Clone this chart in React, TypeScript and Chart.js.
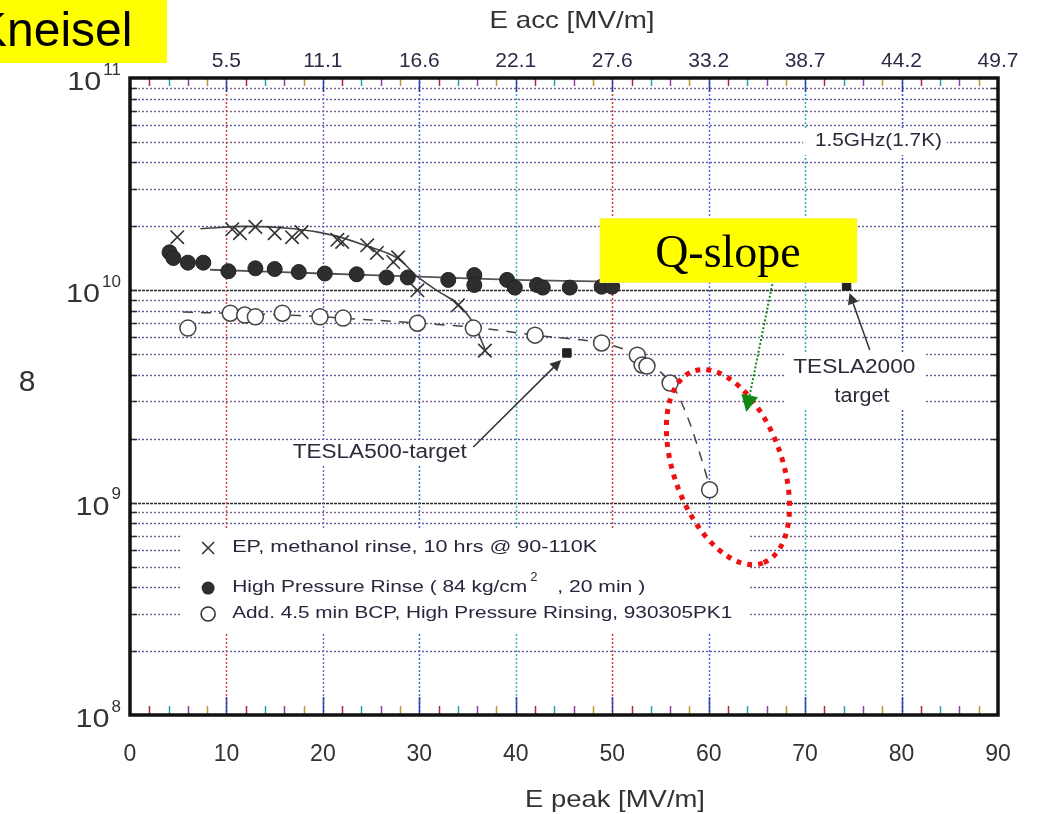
import React, { useEffect, useRef } from "react";
import { Chart, registerables } from "chart.js";

Chart.register(...registerables);

const FONT = "'Liberation Sans', Arial, Helvetica, sans-serif";
const SERIF = "'Liberation Serif', 'Times New Roman', serif";

// ---- axes ----
const EPEAK_MIN = 0;
const EPEAK_MAX = 90;
const EACC_POS = [10, 20, 30, 40, 50, 60, 70, 80, 90];
const EACC_LABELS = ["5.5", "11.1", "16.6", "22.1", "27.6", "33.2", "38.7", "44.2", "49.7"];
const Y_DECADES = [1e8, 1e9, 1e10, 1e11];
const Y_EXPONENTS = ["8", "9", "10", "11"];
const Y_FACTORS = [1, 2, 3, 4, 5, 6, 7, 8, 9];
const V_GRID = [10, 20, 30, 40, 50, 60, 70, 80];

// ---- series: EP, methanol rinse (crosses) ----
const EP_X = [4.9, 10.6, 11.4, 13.0, 15.0, 16.8, 17.8, 21.5, 22.0, 24.6, 25.6, 27.3, 27.8, 29.8, 34.0, 36.8];
const EP_Q = [1.78e10, 1.94e10, 1.86e10, 1.99e10, 1.86e10, 1.78e10, 1.88e10, 1.73e10, 1.69e10, 1.63e10, 1.5e10, 1.36e10, 1.43e10, 1.0e10, 8.5e9, 5.2e9];
const EP_FIT_X = [7.3, 12, 17, 21, 24.5, 27.7, 29.8, 32.1, 33.9, 35.6, 36.8];
const EP_FIT_Q = [1.95e10, 2.0e10, 1.95e10, 1.82e10, 1.62e10, 1.42e10, 1.16e10, 9.8e9, 8.7e9, 7.0e9, 5.3e9];

// ---- series: High Pressure Rinse (filled circles) ----
const HPR_X = [4.1, 4.5, 6.0, 7.6, 10.2, 13.0, 15.0, 17.5, 20.2, 23.5, 26.6, 28.8, 33.0, 35.7, 35.7, 39.1, 39.9, 42.2, 42.8, 45.6, 48.9, 50.0];
const HPR_Q = [1.51e10, 1.42e10, 1.35e10, 1.35e10, 1.23e10, 1.27e10, 1.26e10, 1.22e10, 1.2e10, 1.19e10, 1.15e10, 1.15e10, 1.12e10, 1.18e10, 1.06e10, 1.12e10, 1.03e10, 1.06e10, 1.03e10, 1.03e10, 1.04e10, 1.04e10];
const HPR_FIT_X = [8.3, 20, 30, 40, 50];
const HPR_FIT_Q = [1.25e10, 1.2e10, 1.16e10, 1.12e10, 1.1e10];

// ---- series: Add. 4.5 min BCP (open circles) ----
const BCP_X = [6.0, 10.4, 11.9, 13.0, 15.8, 19.7, 22.1, 29.8, 35.6, 42.0, 48.9, 52.6, 53.1, 53.6, 56.0, 60.1];
const BCP_Q = [6.64e9, 7.8e9, 7.65e9, 7.5e9, 7.8e9, 7.5e9, 7.4e9, 7.0e9, 6.64e9, 6.15e9, 5.65e9, 4.95e9, 4.45e9, 4.4e9, 3.66e9, 1.15e9];
const BCP_FIT_X = [5.5, 10, 15, 20, 25, 30, 35.6, 42, 48.9, 52.6, 56, 58, 60.1];
const BCP_FIT_Q = [7.9e9, 7.8e9, 7.7e9, 7.5e9, 7.25e9, 7.0e9, 6.7e9, 6.15e9, 5.65e9, 4.95e9, 3.7e9, 2.4e9, 1.2e9];

// ---- TESLA targets (filled squares) ----
const TARGET_X = [45.3, 74.3];
const TARGET_Q = [5.07e9, 1.05e10];

// ---- legend texts ----
const LEGEND_1 = "EP, methanol rinse, 10 hrs @ 90-110K";
const LEGEND_2A = "High Pressure Rinse ( 84 kg/cm";
const LEGEND_2SUP = "2";
const LEGEND_2B = ", 20 min )";
const LEGEND_3 = "Add. 4.5 min BCP, High Pressure Rinsing, 930305PK1";

const pts = (xs: number[], ys: number[]) => xs.map((x, i) => ({ x, y: ys[i] }));

const V_COLORS = ["#d04848", "#8a5cc8", "#4466d8", "#3fb3c4", "#d83434", "#4a70e0", "#3aa8c4", "#3452c4"];
const TICK_COLORS = ["#2840b0", "#b02838", "#28a0b8", "#9838b0", "#b89828"];

function stretchText(ctx: CanvasRenderingContext2D, text: string, x: number, y: number, width: number, align: "left" | "center" | "right" = "left") {
  const w = ctx.measureText(text).width || 1;
  const sx = width / w;
  const x0 = align === "center" ? x - width / 2 : align === "right" ? x - width : x;
  ctx.save();
  ctx.textAlign = "left";
  ctx.translate(x0, y);
  ctx.scale(sx, 1);
  ctx.fillText(text, 0, 0);
  ctx.restore();
}

function arrow(ctx: CanvasRenderingContext2D, x1: number, y1: number, x2: number, y2: number, color: string, width: number, head: number, dash?: number[]) {
  const ang = Math.atan2(y2 - y1, x2 - x1);
  const c = Math.cos(ang), s = Math.sin(ang);
  ctx.save();
  ctx.strokeStyle = color;
  ctx.lineWidth = width;
  if (dash) ctx.setLineDash(dash);
  ctx.beginPath();
  ctx.moveTo(x1, y1);
  ctx.lineTo(x2 - head * 0.8 * c, y2 - head * 0.8 * s);
  ctx.stroke();
  ctx.setLineDash([]);
  ctx.fillStyle = color;
  ctx.beginPath();
  ctx.moveTo(x2, y2);
  ctx.lineTo(x2 - head * c + head * 0.5 * s, y2 - head * s - head * 0.5 * c);
  ctx.lineTo(x2 - head * c - head * 0.5 * s, y2 - head * s + head * 0.5 * c);
  ctx.closePath();
  ctx.fill();
  ctx.restore();
}

const scanPlugin = {
  id: "scanPlugin",
  beforeDatasetsDraw(chart: any) {
    const { ctx, chartArea: a, scales } = chart;
    const xs = scales.x, ys = scales.y;
    const P = (x: number, y: number) => [xs.getPixelForValue(x), ys.getPixelForValue(y)];
    ctx.save();
    // horizontal grid
    Y_DECADES.slice(0, 3).forEach((d) => {
      Y_FACTORS.forEach((f, k) => {
        const v = d * f;
        if (v <= 1e8 || v >= 1e11) return;
        const y = Math.round(ys.getPixelForValue(v)) + 0.5;
        ctx.beginPath();
        if (f === 1) {
          ctx.strokeStyle = "#2a2a2a";
          ctx.lineWidth = 1.6;
          ctx.setLineDash([3, 1]);
        } else {
          ctx.strokeStyle = k % 2 ? "#5a5aa0" : "#7a5f8a";
          ctx.lineWidth = 1.4;
          ctx.setLineDash([2, 2]);
        }
        ctx.moveTo(a.left, y);
        ctx.lineTo(a.right, y);
        ctx.stroke();
      });
    });
    // vertical grid
    V_GRID.forEach((v, i) => {
      const x = Math.round(xs.getPixelForValue(v)) + 0.5;
      ctx.beginPath();
      ctx.strokeStyle = V_COLORS[i % V_COLORS.length];
      ctx.lineWidth = 1.5;
      ctx.setLineDash([2, 2]);
      ctx.moveTo(x, a.top);
      ctx.lineTo(x, a.bottom);
      ctx.stroke();
    });
    ctx.setLineDash([]);
    // inward ticks bottom & top
    for (let v = 2; v < EPEAK_MAX; v += 2) {
      const x = Math.round(xs.getPixelForValue(v)) + 0.5;
      const major = v % 10 === 0;
      ctx.strokeStyle = TICK_COLORS[(v / 2) % TICK_COLORS.length];
      ctx.lineWidth = 1.5;
      ctx.beginPath();
      ctx.moveTo(x, a.bottom);
      ctx.lineTo(x, a.bottom - (major ? 18 : 9));
      ctx.moveTo(x, a.top);
      ctx.lineTo(x, a.top + (major ? 14 : 8));
      ctx.stroke();
    }
    // left/right minor ticks
    Y_DECADES.slice(0, 3).forEach((d) => {
      Y_FACTORS.forEach((f) => {
        const v = d * f;
        if (v <= 1e8 || v >= 1e11) return;
        const y = Math.round(ys.getPixelForValue(v)) + 0.5;
        ctx.strokeStyle = "#333";
        ctx.lineWidth = 1.5;
        ctx.beginPath();
        ctx.moveTo(a.left, y);
        ctx.lineTo(a.left + 7, y);
        ctx.moveTo(a.right, y);
        ctx.lineTo(a.right - 7, y);
        ctx.stroke();
      });
    });
    // white backgrounds behind labels
    ctx.fillStyle = "#ffffff";
    const rect = (x0: number, y0: number, x1: number, y1: number) => {
      const [px0, py0] = P(x0, y0);
      const [px1, py1] = P(x1, y1);
      ctx.fillRect(px0, py0, px1 - px0, py1 - py0);
    };
    rect(5.2, 7.43e8, 64.3, 2.46e8); // legend
    rect(69.8, 5.81e10, 84.7, 4.34e10); // 1.5GHz
    rect(67.9, 5.12e9, 82.4, 2.73e9); // TESLA2000
    rect(16.4, 1.97e9, 35.5, 1.5e9); // TESLA500
    ctx.restore();
  },
  afterDatasetsDraw(chart: any) {
    const { ctx, chartArea: a, scales } = chart;
    const xs = scales.x, ys = scales.y;
    const P = (x: number, y: number) => [xs.getPixelForValue(x), ys.getPixelForValue(y)];
    ctx.save();
    ctx.textBaseline = "middle";

    // legend
    const markX = xs.getPixelForValue(8.1);
    const textX = xs.getPixelForValue(10.6);
    const r1 = ys.getPixelForValue(6.12e8);
    const r2 = ys.getPixelForValue(3.96e8);
    const r3 = ys.getPixelForValue(2.99e8);
    ctx.strokeStyle = "#333";
    ctx.lineWidth = 1.6;
    ctx.beginPath();
    ctx.moveTo(markX - 6, r1 - 6); ctx.lineTo(markX + 6, r1 + 6);
    ctx.moveTo(markX + 6, r1 - 6); ctx.lineTo(markX - 6, r1 + 6);
    ctx.stroke();
    ctx.fillStyle = "#2e2e2e";
    ctx.beginPath(); ctx.arc(markX, r2, 6.5, 0, Math.PI * 2); ctx.fill();
    ctx.fillStyle = "#fff";
    ctx.beginPath(); ctx.arc(markX, r3, 7, 0, Math.PI * 2); ctx.fill(); ctx.stroke();
    ctx.fillStyle = "#26263c";
    ctx.font = `16px ${FONT}`;
    stretchText(ctx, LEGEND_1, textX, r1, 365);
    stretchText(ctx, LEGEND_2A, textX, r2, 295);
    stretchText(ctx, LEGEND_2B, textX + 325, r2, 88);
    ctx.font = `13px ${FONT}`;
    ctx.fillText(LEGEND_2SUP, textX + 298, r2 - 11);
    ctx.font = `16px ${FONT}`;
    stretchText(ctx, LEGEND_3, textX, r3, 500);

    // labels
    ctx.fillStyle = "#2a2a3a";
    ctx.font = `19px ${FONT}`;
    let [lx, ly] = P(77.6, 5.05e10);
    stretchText(ctx, "1.5GHz(1.7K)", lx, ly, 127, "center");
    ctx.font = `20px ${FONT}`;
    [lx, ly] = P(75.1, 4.31e9);
    stretchText(ctx, "TESLA2000", lx, ly, 122, "center");
    [lx, ly] = P(75.9, 3.15e9);
    stretchText(ctx, "target", lx, ly, 55, "center");
    [lx, ly] = P(25.9, 1.73e9);
    stretchText(ctx, "TESLA500-target", lx, ly, 174, "center");

    // black arrows to targets
    let [ax1, ay1] = P(35.6, 1.83e9);
    let [ax2, ay2] = P(44.7, 4.7e9);
    arrow(ctx, ax1, ay1, ax2, ay2, "#333", 1.5, 11);
    [ax1, ay1] = P(76.7, 5.24e9);
    [ax2, ay2] = P(74.6, 9.71e9);
    arrow(ctx, ax1, ay1, ax2, ay2, "#333", 1.5, 11);

    // red dotted ellipse
    const [ex, ey] = P(62.0, 1.47e9);
    ctx.save();
    ctx.strokeStyle = "#ee1111";
    ctx.lineWidth = 5;
    ctx.setLineDash([5, 6]);
    ctx.beginPath();
    ctx.ellipse(ex, ey, 102, 54, (70 * Math.PI) / 180, 0, Math.PI * 2);
    ctx.stroke();
    ctx.restore();

    // Q-slope box
    const [bx0, by0] = P(48.7, 2.19e10);
    const [bx1, by1] = P(75.4, 1.083e10);
    ctx.fillStyle = "#ffff00";
    ctx.fillRect(bx0, by0, bx1 - bx0, by1 - by0);
    ctx.save();
    ctx.strokeStyle = "#e8e8b0";
    ctx.setLineDash([2, 2]);
    ctx.lineWidth = 1;
    ctx.strokeRect(bx0 + 0.5, by0 + 0.5, bx1 - bx0 - 1, by1 - by0 - 1);
    ctx.restore();
    ctx.fillStyle = "#000";
    ctx.font = `46px ${SERIF}`;
    ctx.textAlign = "center";
    const [qx, qy] = P(62.0, 1.467e10);
    ctx.fillText("Q-slope", qx, qy);
    ctx.textAlign = "left";

    // green dotted arrow
    [ax1, ay1] = P(66.6, 1.07e10);
    [ax2, ay2] = P(63.9, 2.67e9);
    arrow(ctx, ax1, ay1, ax2, ay2, "#118811", 2, 17, [2, 2]);

    // frame
    ctx.strokeStyle = "#111";
    ctx.lineWidth = 3.5;
    ctx.setLineDash([]);
    ctx.strokeRect(a.left, a.top, a.right - a.left, a.bottom - a.top);
    ctx.restore();
  },
  afterDraw(chart: any) {
    const { ctx, scales, chartArea: a } = chart;
    const ys = scales.y;
    ctx.save();
    // y tick labels with superscripts
    ctx.fillStyle = "#333";
    ctx.textBaseline = "middle";
    Y_DECADES.forEach((d, i) => {
      const y = ys.getPixelForValue(d);
      ctx.font = `17px ${FONT}`;
      const ew = ctx.measureText(Y_EXPONENTS[i]).width;
      const right = a.left - 9;
      ctx.fillText(Y_EXPONENTS[i], right - ew, y - 8);
      ctx.font = `25px ${FONT}`;
      stretchText(ctx, "10", right - ew - 36, y + 5, 34);
    });
    // y title
    ctx.font = `30px ${FONT}`;
    ctx.textAlign = "center";
    ctx.fillText("8", 27, 383);
    // axis titles
    ctx.font = `24px ${FONT}`;
    stretchText(ctx, "E acc [MV/m]", (a.left + a.right) / 2 + 8, 21, 165, "center");
    stretchText(ctx, "E peak [MV/m]", (a.left + a.right) / 2 + 51, 800, 180, "center");
    // Kneisel box
    ctx.fillStyle = "#ffff00";
    ctx.fillRect(0, 0, 167, 63);
    ctx.fillStyle = "#000";
    ctx.font = `48px ${FONT}`;
    ctx.textAlign = "left";
    ctx.textBaseline = "alphabetic";
    ctx.fillText("Kneisel", -25, 46);
    ctx.restore();
  },
};

export default function App() {
  const ref = useRef<HTMLCanvasElement>(null);
  useEffect(() => {
    document.body.style.margin = "0";
    const canvas = ref.current!;
    const chart = new Chart(canvas, {
      type: "scatter",
      data: {
        datasets: [
          {
            label: "EP, methanol rinse",
            data: pts(EP_X, EP_Q),
            pointStyle: "crossRot",
            pointRadius: 9.5,
            pointBorderColor: "#333",
            pointBorderWidth: 1.6,
            showLine: false,
            order: 1,
          },
          {
            label: "High Pressure Rinse",
            data: pts(HPR_X, HPR_Q),
            pointStyle: "circle",
            pointRadius: 7.5,
            pointBackgroundColor: "#2e2e2e",
            pointBorderColor: "#222",
            pointBorderWidth: 1,
            showLine: false,
            order: 1,
          },
          {
            label: "Add. 4.5 min BCP",
            data: pts(BCP_X, BCP_Q),
            pointStyle: "circle",
            pointRadius: 8,
            pointBackgroundColor: "#ffffff",
            pointBorderColor: "#444",
            pointBorderWidth: 1.5,
            showLine: false,
            order: 1,
          },
          {
            label: "TESLA targets",
            data: pts(TARGET_X, TARGET_Q),
            pointStyle: "rect",
            pointRadius: 6,
            pointBackgroundColor: "#222",
            pointBorderColor: "#222",
            showLine: false,
            order: 1,
          },
          {
            label: "EP fit",
            data: pts(EP_FIT_X, EP_FIT_Q),
            showLine: true,
            pointRadius: 0,
            borderColor: "#444",
            borderWidth: 1.6,
            tension: 0.35,
            order: 5,
          },
          {
            label: "HPR fit",
            data: pts(HPR_FIT_X, HPR_FIT_Q),
            showLine: true,
            pointRadius: 0,
            borderColor: "#555",
            borderWidth: 1.8,
            tension: 0.3,
            order: 5,
          },
          {
            label: "BCP fit",
            data: pts(BCP_FIT_X, BCP_FIT_Q),
            showLine: true,
            pointRadius: 0,
            borderColor: "#444",
            borderWidth: 1.5,
            borderDash: [10, 8],
            tension: 0.3,
            order: 5,
          },
        ],
      },
      options: {
        responsive: false,
        animation: false,
        layout: { padding: { right: 39 } },
        plugins: { legend: { display: false }, tooltip: { enabled: false } },
        scales: {
          x: {
            type: "linear",
            position: "bottom",
            min: EPEAK_MIN,
            max: EPEAK_MAX,
            ticks: { stepSize: 10, font: { size: 23, family: FONT }, color: "#333", padding: 26, maxRotation: 0, autoSkip: false },
            grid: { display: false, drawTicks: false },
            border: { display: false },
            afterFit: (s: any) => { s.height = 99; },
          },
          x2: {
            type: "linear",
            position: "top",
            min: EPEAK_MIN,
            max: EPEAK_MAX,
            afterBuildTicks: (s: any) => { s.ticks = EACC_POS.map((v) => ({ value: v })); },
            ticks: {
              callback: (_v: any, i: number) => EACC_LABELS[i],
              font: { size: 21, family: FONT },
              color: "#2b2b45",
              padding: 4,
              maxRotation: 0,
              autoSkip: false,
            },
            grid: { display: false, drawTicks: false },
            border: { display: false },
            afterFit: (s: any) => { s.height = 78; },
          },
          y: {
            type: "logarithmic",
            min: 1e8,
            max: 1e11,
            ticks: { display: false },
            grid: { display: false, drawTicks: false },
            border: { display: false },
            afterFit: (s: any) => { s.width = 130; },
          },
        },
      } as any,
      plugins: [scanPlugin],
    });
    return () => chart.destroy();
  }, []);
  return (
    <div style={{ width: 1037, height: 814, background: "#fff" }}>
      <canvas ref={ref} width={1037} height={814} style={{ display: "block" }} />
    </div>
  );
}
